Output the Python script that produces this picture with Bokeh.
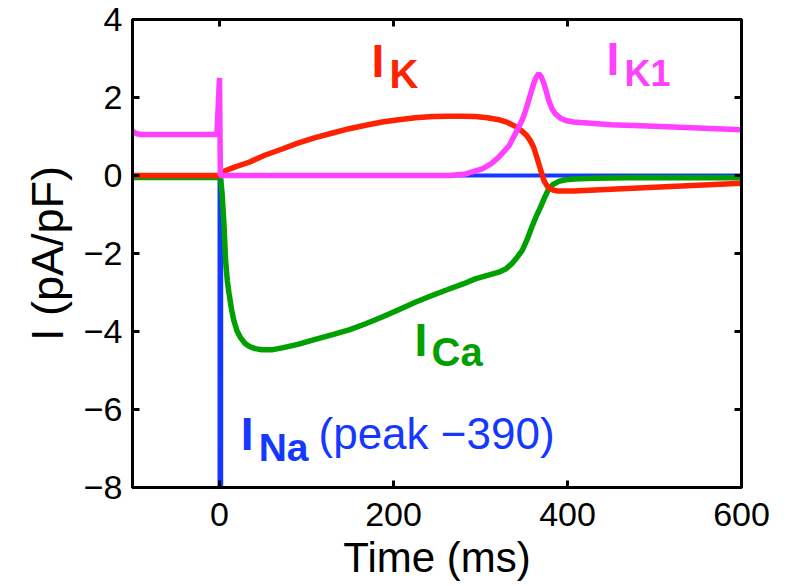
from bokeh.plotting import figure
from bokeh.models import LinearAxis, Label, FixedTicker, Range1d, CustomJSTickFormatter
from bokeh.embed import file_html
from bokeh.resources import INLINE

# ---- data ----
x_ticks = [0, 200, 400, 600]
x_tick_labels = ["0", "200", "400", "600"]
y_ticks = [-8, -6, -4, -2, 0, 2, 4]
y_tick_labels = ["\u22128", "\u22126", "\u22124", "\u22122", "0", "2", "4"]

t_na = [-100, 0, 1, 2, 600]
i_na = [0, 0, -390, 0, 0]

t_ca = [-100, 0, 1.5, 3, 5, 7, 9, 11, 14, 16.5, 20, 24, 29, 34, 41, 49, 60, 72, 90, 110,
        130, 149, 168, 187, 206, 225, 245, 264, 280, 294, 308, 321, 329, 336, 342, 348,
        354, 359, 364, 369, 374, 378.5, 384, 390, 398, 407, 430, 470, 520, 560, 600]
i_ca = [-0.05, -0.05, -0.12, -0.47, -1.2, -2.18, -2.7, -3.03, -3.45, -3.72, -3.98, -4.15,
        -4.3, -4.38, -4.44, -4.47, -4.47, -4.42, -4.33, -4.2, -4.08, -3.96, -3.8, -3.63,
        -3.44, -3.25, -3.07, -2.91, -2.78, -2.65, -2.56, -2.48, -2.4, -2.26, -2.1, -1.92,
        -1.62, -1.32, -1.05, -0.81, -0.55, -0.34, -0.22, -0.15, -0.11, -0.09, -0.07, -0.06,
        -0.06, -0.06, -0.06]

t_k = [-100, 0, 3, 18, 34, 52, 72, 90, 110, 130, 149, 168, 187, 206, 225, 245, 264, 280,
       294, 308, 321, 331, 340, 347, 353, 357, 361, 364, 367, 370, 373, 376, 378.5, 384, 390,
       398, 407, 450, 500, 550, 600]
i_k = [0, 0, 0.09, 0.22, 0.34, 0.52, 0.68, 0.83, 0.97, 1.09, 1.2, 1.29, 1.37, 1.43, 1.48,
       1.51, 1.52, 1.52, 1.51, 1.48, 1.43, 1.36, 1.26, 1.15, 1.03, 0.9, 0.73, 0.52, 0.3, 0.08,
       -0.13, -0.25, -0.32, -0.38, -0.4, -0.4, -0.4, -0.35, -0.3, -0.25, -0.2]

t_k1 = [-100, -98, -95, -90, -3, 0, 1, 264, 283, 302, 312, 321, 333, 344, 349, 353, 357,
        361, 364, 367, 370, 373, 376, 378.5, 382, 386, 392, 398, 407, 450, 500, 550, 600]
i_k1 = [1.15, 1.1, 1.07, 1.05, 1.05, 2.5, 0, 0, 0.04, 0.17, 0.3, 0.47, 0.77, 1.24, 1.48,
        1.75, 2.05, 2.35, 2.52, 2.61, 2.52, 2.35, 2.12, 1.92, 1.72, 1.58, 1.47, 1.41, 1.37,
        1.3, 1.26, 1.22, 1.17]

RED = "#ff2200"
MAG = "#ff40ff"
GRN = "#00a000"
BLU = "#1438ff"
FONT = "Liberation Sans"

p = figure(width=789, height=586, output_backend="svg", toolbar_location=None,
           x_range=Range1d(-100, 600), y_range=Range1d(-8, 4),
           min_border_left=132, min_border_right=48, min_border_top=19, min_border_bottom=99,
           x_axis_label="Time (ms)", y_axis_label="I (pA/pF)")
p.grid.visible = False
p.outline_line_color = "black"
p.outline_line_width = 3
p.background_fill_color = "white"
p.border_fill_color = "white"

p.line(t_na, i_na, line_color=BLU, line_width=4)
p.line(t_ca, i_ca, line_color=GRN, line_width=5.5)
p.line(t_k, i_k, line_color=RED, line_width=5.5)
p.line(t_k1, i_k1, line_color=MAG, line_width=5.5)

def style_axis(ax, ticks, labels, show_labels=True):
    ax.ticker = FixedTicker(ticks=ticks)
    ax.major_tick_in = 7
    ax.major_tick_out = 0
    ax.major_tick_line_width = 3
    ax.minor_tick_line_color = None
    ax.axis_line_width = 3
    ax.major_label_text_font = FONT
    ax.major_label_text_font_size = "34px"
    ax.major_label_text_color = "black"
    if show_labels:
        ax.major_label_overrides = {tk: lb for tk, lb in zip(ticks, labels)}
    else:
        ax.formatter = CustomJSTickFormatter(code="return ''")

xa = p.xaxis[0]
ya = p.yaxis[0]
style_axis(xa, x_ticks, x_tick_labels)
style_axis(ya, y_ticks, y_tick_labels)
xa.major_label_standoff = 15
ya.major_label_standoff = 10
xa.axis_label_text_font_size = "42px"
ya.axis_label_text_font_size = "45px"
for ax in (xa, ya):
    ax.axis_label_text_font = FONT
    ax.axis_label_text_font_style = "normal"
    ax.axis_label_text_color = "black"
xa.axis_label_standoff = 5
ya.axis_label_standoff = 8

top = LinearAxis()
right = LinearAxis()
style_axis(top, x_ticks, x_tick_labels, show_labels=False)
style_axis(right, y_ticks, y_tick_labels, show_labels=False)
top.major_label_standoff = 0
right.major_label_standoff = 0
p.add_layout(top, "above")
p.add_layout(right, "right")

def lab(x, y, text, color, size, bold=True):
    p.add_layout(Label(x=x, y=y, text=text, text_color=color, text_font=FONT,
                       text_font_size=size, text_font_style="bold" if bold else "normal",
                       text_align="left", text_baseline="alphabetic"))

lab(174.7, 2.93, "I", RED, "46px")
lab(195.4, 2.6, "K", RED, "40px")
lab(444.8, 3.0, "I", MAG, "46px")
lab(465.5, 2.62, "K1", MAG, "36px")
lab(224.1, -4.23, "I", GRN, "46px")
lab(243.7, -4.53, "Ca", GRN, "40px")
lab(24.5, -6.62, "I", BLU, "46px")
lab(45.0, -6.97, "Na", BLU, "39px")
lab(113.8, -6.62, "(peak \u2212390)", BLU, "44px", bold=False)

open("out.html", "w").write(file_html(p, INLINE))
